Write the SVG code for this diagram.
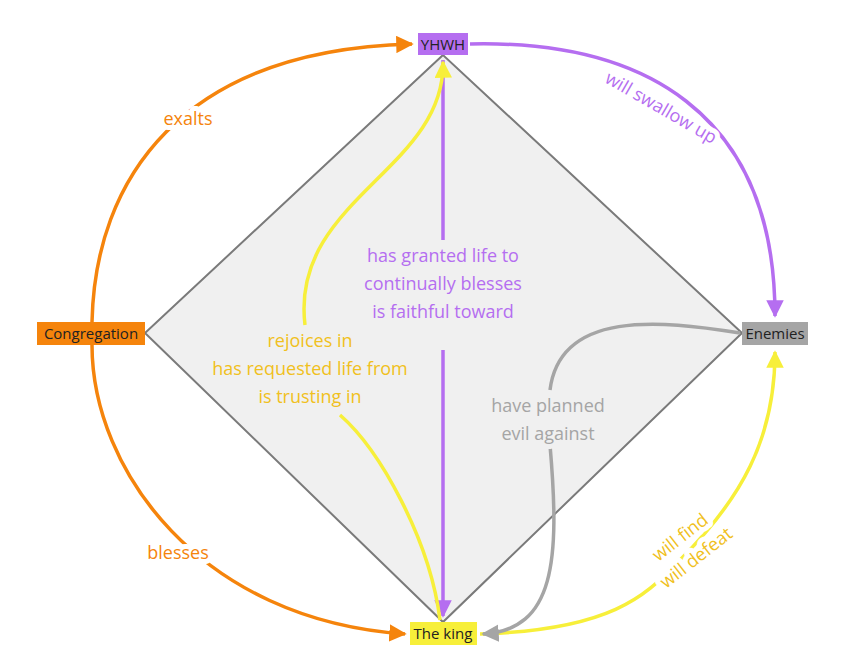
<svg xmlns="http://www.w3.org/2000/svg" width="850" height="649" viewBox="0 0 850 649">
<style>
.lbl{font-family:"Open Sans","Noto Sans",sans-serif;font-size:18px;text-anchor:middle;paint-order:stroke;stroke-width:10px;stroke-linejoin:round}
.w{stroke:#fff}
.g{stroke:#f0f0f0}
.nd{font-family:"Open Sans","Noto Sans",sans-serif;font-size:15px;text-anchor:middle;fill:#222}
.c{fill:none;stroke-width:3.5}
</style>
<defs>
<marker id="ao" viewBox="0 0 10 10" refX="9" refY="5" markerWidth="5" markerHeight="5" orient="auto"><path d="M0,0L10,5L0,10z" fill="#f5840c"/></marker>
<marker id="ap" viewBox="0 0 10 10" refX="9" refY="5" markerWidth="5" markerHeight="5" orient="auto"><path d="M0,0L10,5L0,10z" fill="#b56ef0"/></marker>
<marker id="ay" viewBox="0 0 10 10" refX="9" refY="5" markerWidth="5" markerHeight="5" orient="auto"><path d="M0,0L10,5L0,10z" fill="#f7ef3a"/></marker>
<marker id="ag" viewBox="0 0 10 10" refX="9" refY="5" markerWidth="5" markerHeight="5" orient="auto"><path d="M0,0L10,5L0,10z" fill="#a5a5a5"/></marker>
</defs>
<rect width="850" height="649" fill="#fff"/>
<polygon points="443,55 145,333 443,622 742,333" fill="#f0f0f0" stroke="#7a7a7a" stroke-width="2"/>
<g id="connectors">
<path class="c" stroke="#f5840c" d="M92,322 C95,180 180,50 412,44" marker-end="url(#ao)"/>
<path class="c" stroke="#f5840c" d="M92,345 C92,470 200,620 405,634" marker-end="url(#ao)"/>
<path class="c" stroke="#b56ef0" d="M470,44 C640,40 775,110 775,316" marker-end="url(#ap)"/>
<path class="c" stroke="#b56ef0" d="M443,60 L443,240 M443,350 L443,616" marker-end="url(#ap)"/>
<path class="c" stroke="#f7ef3a" d="M440,620 C430,540 380,450 340,415" />
<path class="c" stroke="#f7ef3a" d="M305,325 C290,200 445,170 443,62" marker-end="url(#ay)"/>
<path class="c" stroke="#f7ef3a" d="M480,634 C620,630 650,590 680,560 C740,500 775,440 775,352" marker-end="url(#ay)"/>
<path class="c" stroke="#a5a5a5" d="M740,333 C660,320 560,310 550,390"/>
<path class="c" stroke="#a5a5a5" d="M550,445 C560,560 555,630 483,634" marker-end="url(#ag)"/>
</g>
<text class="lbl w" x="188" y="125" fill="#f5840c">exalts</text>
<text class="lbl w" x="178" y="559" fill="#f5840c">blesses</text>
<text class="lbl w" x="658" y="113" fill="#b56ef0" transform="rotate(30 658 113)">will swallow up</text>
<text class="lbl g" fill="#b56ef0"><tspan x="443" y="262">has granted life to</tspan><tspan x="443" y="290">continually blesses</tspan><tspan x="443" y="318">is faithful toward</tspan></text>
<text class="lbl g" fill="#f0c020"><tspan x="310" y="347">rejoices in</tspan><tspan x="310" y="375">has requested life from</tspan><tspan x="310" y="403">is trusting in</tspan></text>
<text class="lbl g" fill="#a5a5a5"><tspan x="548" y="412">have planned</tspan><tspan x="548" y="440">evil against</tspan></text>
<text class="lbl w" fill="#f0c020" transform="rotate(-38 690 550)"><tspan x="690" y="540">will find</tspan><tspan x="690" y="566">will defeat</tspan></text>
<g id="yhwh"><rect x="418" y="33" width="50" height="22" fill="#b56ef0"/><text class="nd" x="443" y="50">YHWH</text></g>
<g id="king"><rect x="410" y="622" width="67" height="23" fill="#f7ef3a"/><text class="nd" x="443" y="639">The king</text></g>
<g id="congregation"><rect x="37" y="322" width="108" height="23" fill="#f5840c"/><text class="nd" x="91" y="339">Congregation</text></g>
<g id="enemies"><rect x="742" y="322" width="66" height="23" fill="#a5a5a5"/><text class="nd" x="775" y="339">Enemies</text></g>
</svg>
